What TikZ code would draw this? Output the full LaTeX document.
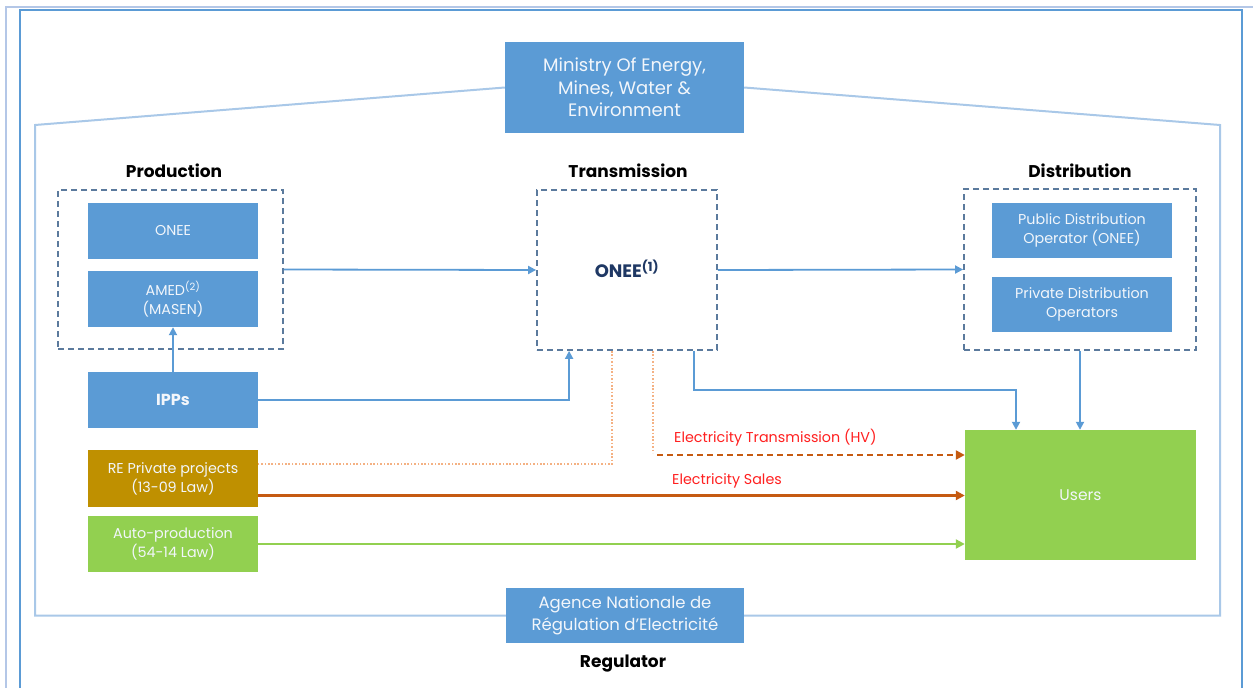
\documentclass[tikz,border=0pt]{standalone}
\usepackage{fontspec}
\setmainfont{Poppins}
\usetikzlibrary{arrows.meta}
\definecolor{boxblue}{HTML}{5B9BD5}
\definecolor{lineblue}{HTML}{5B9BD5}
\definecolor{houseblue}{HTML}{A9C8E8}
\definecolor{frameout}{HTML}{B4C7E7}
\definecolor{dashgray}{HTML}{5B7A9D}
\definecolor{gold}{HTML}{BF9000}
\definecolor{lgreen}{HTML}{92D050}
\definecolor{orangeln}{HTML}{C55A11}
\definecolor{dotorange}{HTML}{F4B183}
\definecolor{redtxt}{HTML}{FF2020}
\definecolor{navy}{HTML}{1F3864}
\definecolor{softwhite}{HTML}{F2F6FB}
\tikzset{
  fbox/.style={fill=#1, draw=none, text=softwhite, align=center, inner sep=0pt},
  bigtxt/.style={font=\fontsize{18}{22.5}\selectfont},
  midtxt/.style={font=\fontsize{16.5}{22}\selectfont},
  smtxt/.style={font=\fontsize{14.3}{19}\selectfont},
  header/.style={font=\fontsize{17}{20}\selectfont\bfseries, text=black},
  groupbox/.style={draw=dashgray, line width=1.8pt, dash pattern=on 6pt off 4pt, inner sep=0pt},
  barrow/.style={draw=lineblue, line width=1.8pt, -{Triangle[width=8pt,length=8pt]}},
  oarrow/.style={draw=orangeln, line width=2.2pt, -{Triangle[width=9pt,length=9pt]}},
  odash/.style={draw=orangeln, line width=2.2pt, dash pattern=on 6pt off 4pt, -{Triangle[width=9pt,length=9pt]}},
  odot/.style={draw=dotorange, line width=1.8pt, dash pattern=on 1.6pt off 1.8pt},
  garrow/.style={draw=lgreen, line width=2.2pt, -{Triangle[width=9pt,length=9pt]}},
  lbl/.style={text=redtxt, font=\fontsize{14.3}{17}\selectfont, inner sep=0pt, anchor=west},
}
\begin{document}
\begin{tikzpicture}[x=1pt,y=-1pt]
\useasboundingbox (0,0) rectangle (1253,688);
\fill[white] (0,0) rectangle (1253,688);
% page frames
\draw[frameout, line width=2.5pt] (6,688) -- (6,7) -- (1253,7);
\draw[lineblue, line width=1.8pt] (20,688) -- (20,10) -- (1242,10) -- (1242,688);

% top and bottom boxes
\node[fbox=boxblue, bigtxt, minimum width=239pt, minimum height=91pt] (ministry) at (624.5,87.5) {Ministry Of Energy,\\Mines, Water \&\\Environment};
\node[fbox=boxblue, midtxt, minimum width=238pt, minimum height=55pt] (agence) at (625,615.5) {Agence Nationale de\\Régulation d’Electricité};
\node[header] (reghdr) at (623,664) {Regulator};

% house outline
\draw[houseblue, line width=2pt] (ministry.west) -- (35,125) -- (35,615.5) -- (agence.west);
\draw[houseblue, line width=2pt] (agence.east) -- (1220,615.5) -- (1220,125) -- (ministry.east);

% headers
\node[header] (prodhdr) at (174,171) {Production};
\node[header] (transhdr) at (628,171) {Transmission};
\node[header] (disthdr) at (1080,171) {Distribution};

% group boxes
\node[groupbox, minimum width=225pt, minimum height=159pt] (prod) at (170.5,269.5) {};
\node[groupbox, minimum width=180pt, minimum height=160pt, text=navy, font=\fontsize{18}{21}\selectfont\bfseries] (trans) at (627,270) {\raisebox{2pt}{ONEE\textsuperscript{(1)}}};
\node[groupbox, minimum width=232pt, minimum height=161pt] (dist) at (1080,269.5) {};

% production boxes
\node[fbox=boxblue, smtxt, minimum width=170pt, minimum height=56pt] (onee) at (173,231) {ONEE};
\node[fbox=boxblue, smtxt, minimum width=170pt, minimum height=56pt] (amed) at (173,299) {AMED\textsuperscript{(2)}\\(MASEN)};
\node[fbox=boxblue, font=\fontsize{16}{19}\selectfont\bfseries, minimum width=170pt, minimum height=56pt] (ipps) at (173,400) {IPPs};
\node[fbox=gold, smtxt, minimum width=170pt, minimum height=57pt] (re) at (173,478.5) {RE Private projects\\(13-09 Law)};
\node[fbox=lgreen, smtxt, minimum width=170pt, minimum height=56pt] (auto) at (173,544) {Auto-production\\(54-14 Law)};

% distribution boxes
\node[fbox=boxblue, smtxt, minimum width=180pt, minimum height=55pt] (pubdist) at (1082,230.5) {Public Distribution\\Operator (ONEE)};
\node[fbox=boxblue, smtxt, minimum width=180pt, minimum height=55pt] (privdist) at (1082,304.5) {Private Distribution\\Operators};

% users
\node[fbox=lgreen, font=\fontsize{15.5}{18}\selectfont, minimum width=231pt, minimum height=130pt] (users) at (1080.5,495) {Users};

% blue connectors
\draw[barrow] (prod.east) -- (trans.west);
\draw[barrow] (trans.east) -- (dist.west);
\draw[barrow] (ipps.north) -- (amed.south);
\draw[barrow] (ipps.east) -| ([xshift=33pt]trans.south west);
\draw[barrow] ([xshift=-24pt]trans.south east) -- ++(0,39) -| ([xshift=-64.5pt]users.north);
\draw[barrow] (dist.south) -- (dist.south |- users.north);

% orange / green flows
\coordinate (hvstart) at (657,455);
\draw[odot] ([xshift=-15pt]trans.south) |- ([yshift=14.5pt]re.east);
\draw[odot] ([xshift=26pt]trans.south) -- ([xshift=26pt,yshift=-102pt]trans.south);
\draw[odash] (hvstart) -- (hvstart -| users.west);
\draw[oarrow] ([yshift=-17pt]re.east) -- ([yshift=-17pt]re.east -| users.west);
\draw[garrow] (auto.east) -- (auto.east -| users.west);

\node[lbl] (hvlbl) at (674,438) {Electricity Transmission (HV)};
\node[lbl] (saleslbl) at (672,481) {Electricity Sales};
\end{tikzpicture}
\end{document}
